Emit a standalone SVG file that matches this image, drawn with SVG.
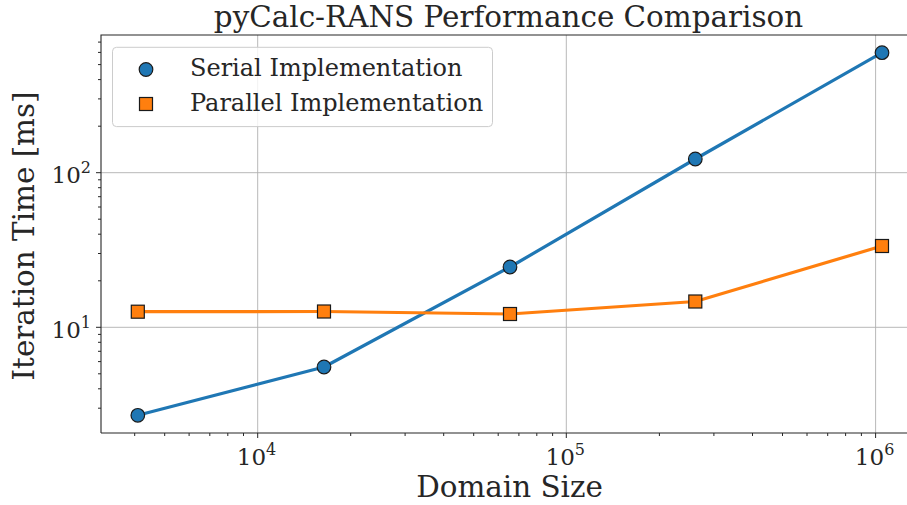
<svg xmlns="http://www.w3.org/2000/svg" width="907" height="505" viewBox="0 0 907 505">
<style>
text{font-family:"DejaVu Serif","Liberation Serif",serif;fill:#262626}
.grid{stroke:#b0b0b0;stroke-width:0.9;fill:none}
.spine{stroke:#262626;stroke-width:1.1;fill:none}
.tick{stroke:#262626;stroke-width:1;fill:none}
.tl{font-size:23px}
.sup{font-size:16px}
.lbl{font-size:29.4px}
.leg{font-size:24px}
.serial{stroke:#1f77b4;stroke-width:3.2;fill:none;stroke-linejoin:round;stroke-linecap:round}
.parallel{stroke:#ff7f0e;stroke-width:3.2;fill:none;stroke-linejoin:round;stroke-linecap:round}
.mc{fill:#1f77b4;stroke:#1a1a1a;stroke-width:1.2}
.ms{fill:#ff7f0e;stroke:#1a1a1a;stroke-width:1.2}
</style>
<defs>
<circle id="c" r="6.8" class="mc"/>
<rect id="s" x="-6.5" y="-6.5" width="13" height="13" class="ms"/>
</defs>
<rect width="907" height="505" fill="#fff"/>
<text x="508.5" y="27" class="lbl" text-anchor="middle">pyCalc-RANS Performance Comparison</text>
<g id="grid">
<path class="grid" d="M257.7 35V433M566.3 35V433M875.6 35V433M101 172.7H907M101 327.3H907"/>
</g>
<g id="ticks">
<path class="tick" d="M257.7 433v5M566.3 433v5M875.6 433v5M101 172.7h-5M101 327.3h-5"/>
<path class="tick" d="M134.7 433v3M164.7 433v3M189.1 433v3M209.8 433v3M227.8 433v3M243.5 433v3M350.7 433v3M405.1 433v3M443.7 433v3M473.7 433v3M498.2 433v3M518.9 433v3M536.8 433v3M552.6 433v3M659.4 433v3M713.9 433v3M752.5 433v3M782.5 433v3M807 433v3M827.7 433v3M845.6 433v3M861.4 433v3"/>
<path class="tick" d="M101 408.2h-3M101 388.8h-3M101 373.8h-3M101 361.6h-3M101 351.3h-3M101 342.3h-3M101 334.4h-3M101 280.8h-3M101 253.5h-3M101 234.2h-3M101 219.2h-3M101 207h-3M101 196.7h-3M101 187.7h-3M101 179.8h-3M101 126.2h-3M101 98.9h-3M101 79.6h-3M101 64.6h-3M101 52.4h-3M101 42.1h-3"/>
</g>
<g id="ticklabels">
<text class="tl" x="256.5" y="465" text-anchor="middle">10<tspan class="sup" dy="-10.5">4</tspan></text>
<text class="tl" x="565.3" y="465" text-anchor="middle">10<tspan class="sup" dy="-10.5">5</tspan></text>
<text class="tl" x="874.6" y="465" text-anchor="middle">10<tspan class="sup" dy="-10.5">6</tspan></text>
<text class="tl" x="91" y="183" text-anchor="end">10<tspan class="sup" dy="-10.5">2</tspan></text>
<text class="tl" x="91" y="338" text-anchor="end">10<tspan class="sup" dy="-10.5">1</tspan></text>
</g>
<text class="lbl" x="509.5" y="497" text-anchor="middle">Domain Size</text>
<text class="lbl" transform="translate(34 236) rotate(-90)" text-anchor="middle">Iteration Time [ms]</text>
<g id="connectors">
<polyline class="serial" points="137.8,415.3 324,367 510,267 695.3,159 882,52.7"/>
<polyline class="parallel" points="137.8,311.7 324,311.5 510,314 695.3,301.5 882,246"/>
</g>
<g id="serial-markers">
<use href="#c" x="137.8" y="415.3"/>
<use href="#c" x="324" y="367"/>
<use href="#c" x="510" y="267"/>
<use href="#c" x="695.3" y="159"/>
<use href="#c" x="882" y="52.7"/>
</g>
<g id="parallel-markers">
<use href="#s" x="137.8" y="311.7"/>
<use href="#s" x="324" y="311.5"/>
<use href="#s" x="510" y="314"/>
<use href="#s" x="695.3" y="301.5"/>
<use href="#s" x="882" y="246"/>
</g>
<g id="spines">
<path class="spine" d="M101 433V35H907M101 433H907"/>
</g>
<g id="legend">
<rect x="112.5" y="47.3" width="380" height="79.3" rx="4" fill="#fff" fill-opacity="0.8" stroke="#cccccc" stroke-width="1"/>
<use href="#c" x="146" y="69.5"/>
<use href="#s" x="146" y="104"/>
<text class="leg" x="190" y="76">Serial Implementation</text>
<text class="leg" x="190" y="111">Parallel Implementation</text>
</g>
</svg>
